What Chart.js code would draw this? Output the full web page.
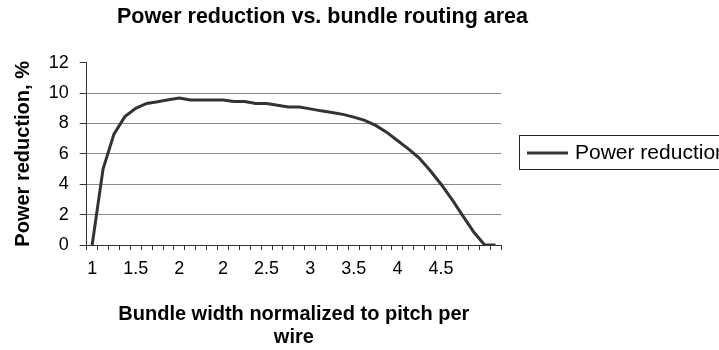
<!DOCTYPE html>
<html>
<head>
<meta charset="utf-8">
<script src="https://cdn.jsdelivr.net/npm/chart.js@4"></script>
<style>
  html, body { margin: 0; padding: 0; background: #fff; overflow: hidden; }
  #wrap { width: 719px; height: 350px; }
</style>
</head>
<body>
<div id="wrap"><canvas id="chart" width="719" height="350"></canvas></div>
<script>
// Bundle width categories (only every fourth one carries a label)
const widthLabels = [
  '1', '', '', '', '1.5', '', '', '', '2', '', '', '', '2', '', '', '',
  '2.5', '', '', '', '3', '', '', '', '3.5', '', '', '', '4', '', '', '',
  '4.5', '', '', '', '', ''
];

// Power reduction in percent for each bundle width
const powerReduction = [
  0, 5.0, 7.3, 8.45, 9.0, 9.32, 9.43, 9.56, 9.67, 9.54,
  9.54, 9.54, 9.55, 9.45, 9.45, 9.32, 9.32, 9.2, 9.08, 9.08,
  8.96, 8.83, 8.72, 8.6, 8.42, 8.2, 7.87, 7.43, 6.88, 6.33,
  5.72, 4.9, 4.0, 3.0, 1.92, 0.85, 0, 0
];

const seriesName = 'Power reduction';
const chartTitle = 'Power reduction vs. bundle routing area';
const xTitle = ['Bundle width normalized to pitch per', 'wire'];
const yTitle = 'Power reduction, %';
const yMin = 0, yMax = 12, yStep = 2;

const FONT = "'Liberation Sans', Arial, Helvetica, sans-serif";
const LINE_COLOR = '#333333';
const AXIS_COLOR = '#333333';
const GRID_COLOR = '#8a8a8a';

// Boxed legend at the right, drawn after the chart
const boxedLegend = {
  id: 'boxedLegend',
  afterDraw(chart) {
    const ctx = chart.ctx;
    const ds = chart.data.datasets[0];
    ctx.save();
    ctx.strokeStyle = '#222';
    ctx.lineWidth = 1;
    ctx.strokeRect(519.5, 135.5, 260, 34);
    ctx.strokeStyle = ds.borderColor;
    ctx.lineWidth = ds.borderWidth;
    ctx.beginPath();
    ctx.moveTo(527, 153);
    ctx.lineTo(568, 153);
    ctx.stroke();
    ctx.fillStyle = '#000';
    ctx.font = '21px ' + FONT;
    ctx.textBaseline = 'middle';
    ctx.textAlign = 'left';
    ctx.fillText(ds.label, 575, 153);
    ctx.restore();
  }
};

// Centre the title over the left part of the canvas
const titleSpan = {
  id: 'titleSpan',
  afterLayout(chart) {
    if (chart.titleBlock) {
      chart.titleBlock.left = 0;
      chart.titleBlock.right = 645;
    }
  }
};

new Chart(document.getElementById('chart'), {
  type: 'line',
  data: {
    labels: widthLabels,
    datasets: [{
      label: seriesName,
      data: powerReduction,
      borderColor: LINE_COLOR,
      backgroundColor: LINE_COLOR,
      borderWidth: 3,
      pointRadius: 0,
      pointHoverRadius: 0,
      tension: 0,
      fill: false
    }]
  },
  options: {
    responsive: false,
    devicePixelRatio: 1,
    animation: false,
    events: [],
    layout: { padding: { left: 0, right: 218, top: 0, bottom: 0 } },
    plugins: {
      legend: { display: false },
      tooltip: { enabled: false },
      title: {
        display: true,
        text: chartTitle,
        color: '#000',
        font: { family: FONT, size: 21.5, weight: 'bold', lineHeight: 1.2 },
        padding: { top: 4.5, bottom: 32.4 }
      }
    },
    scales: {
      x: {
        type: 'category',
        offset: true,
        afterFit(scale) { scale.height = 105; },
        border: { display: true, color: AXIS_COLOR, width: 1 },
        grid: {
          offset: true,
          drawOnChartArea: false,
          drawTicks: true,
          tickLength: 5,
          tickColor: AXIS_COLOR
        },
        ticks: {
          autoSkip: false,
          maxRotation: 0,
          minRotation: 0,
          padding: 8,
          color: '#000',
          font: { family: FONT, size: 18 }
        },
        title: {
          display: true,
          text: xTitle,
          color: '#000',
          font: { family: FONT, size: 20, weight: 'bold', lineHeight: 1.165 },
          padding: { top: 0, bottom: 0.5 }
        }
      },
      y: {
        min: yMin,
        max: yMax,
        afterFit(scale) { scale.width = 86.7; },
        border: { display: true, color: AXIS_COLOR, width: 1 },
        grid: {
          color(ctx) {
            const v = ctx.tick ? ctx.tick.value : null;
            return (v === yMin || v === yMax) ? 'rgba(0,0,0,0)' : GRID_COLOR;
          },
          lineWidth: 1,
          drawTicks: true,
          tickLength: 7,
          tickColor: AXIS_COLOR
        },
        ticks: {
          stepSize: yStep,
          padding: 11,
          color: '#000',
          font: { family: FONT, size: 18 }
        },
        title: {
          display: true,
          text: yTitle,
          color: '#000',
          font: { family: FONT, size: 20, weight: 'bold', lineHeight: 1.2 },
          padding: { top: 11, bottom: 0 }
        }
      }
    }
  },
  plugins: [titleSpan, boxedLegend]
});
</script>
</body>
</html>
